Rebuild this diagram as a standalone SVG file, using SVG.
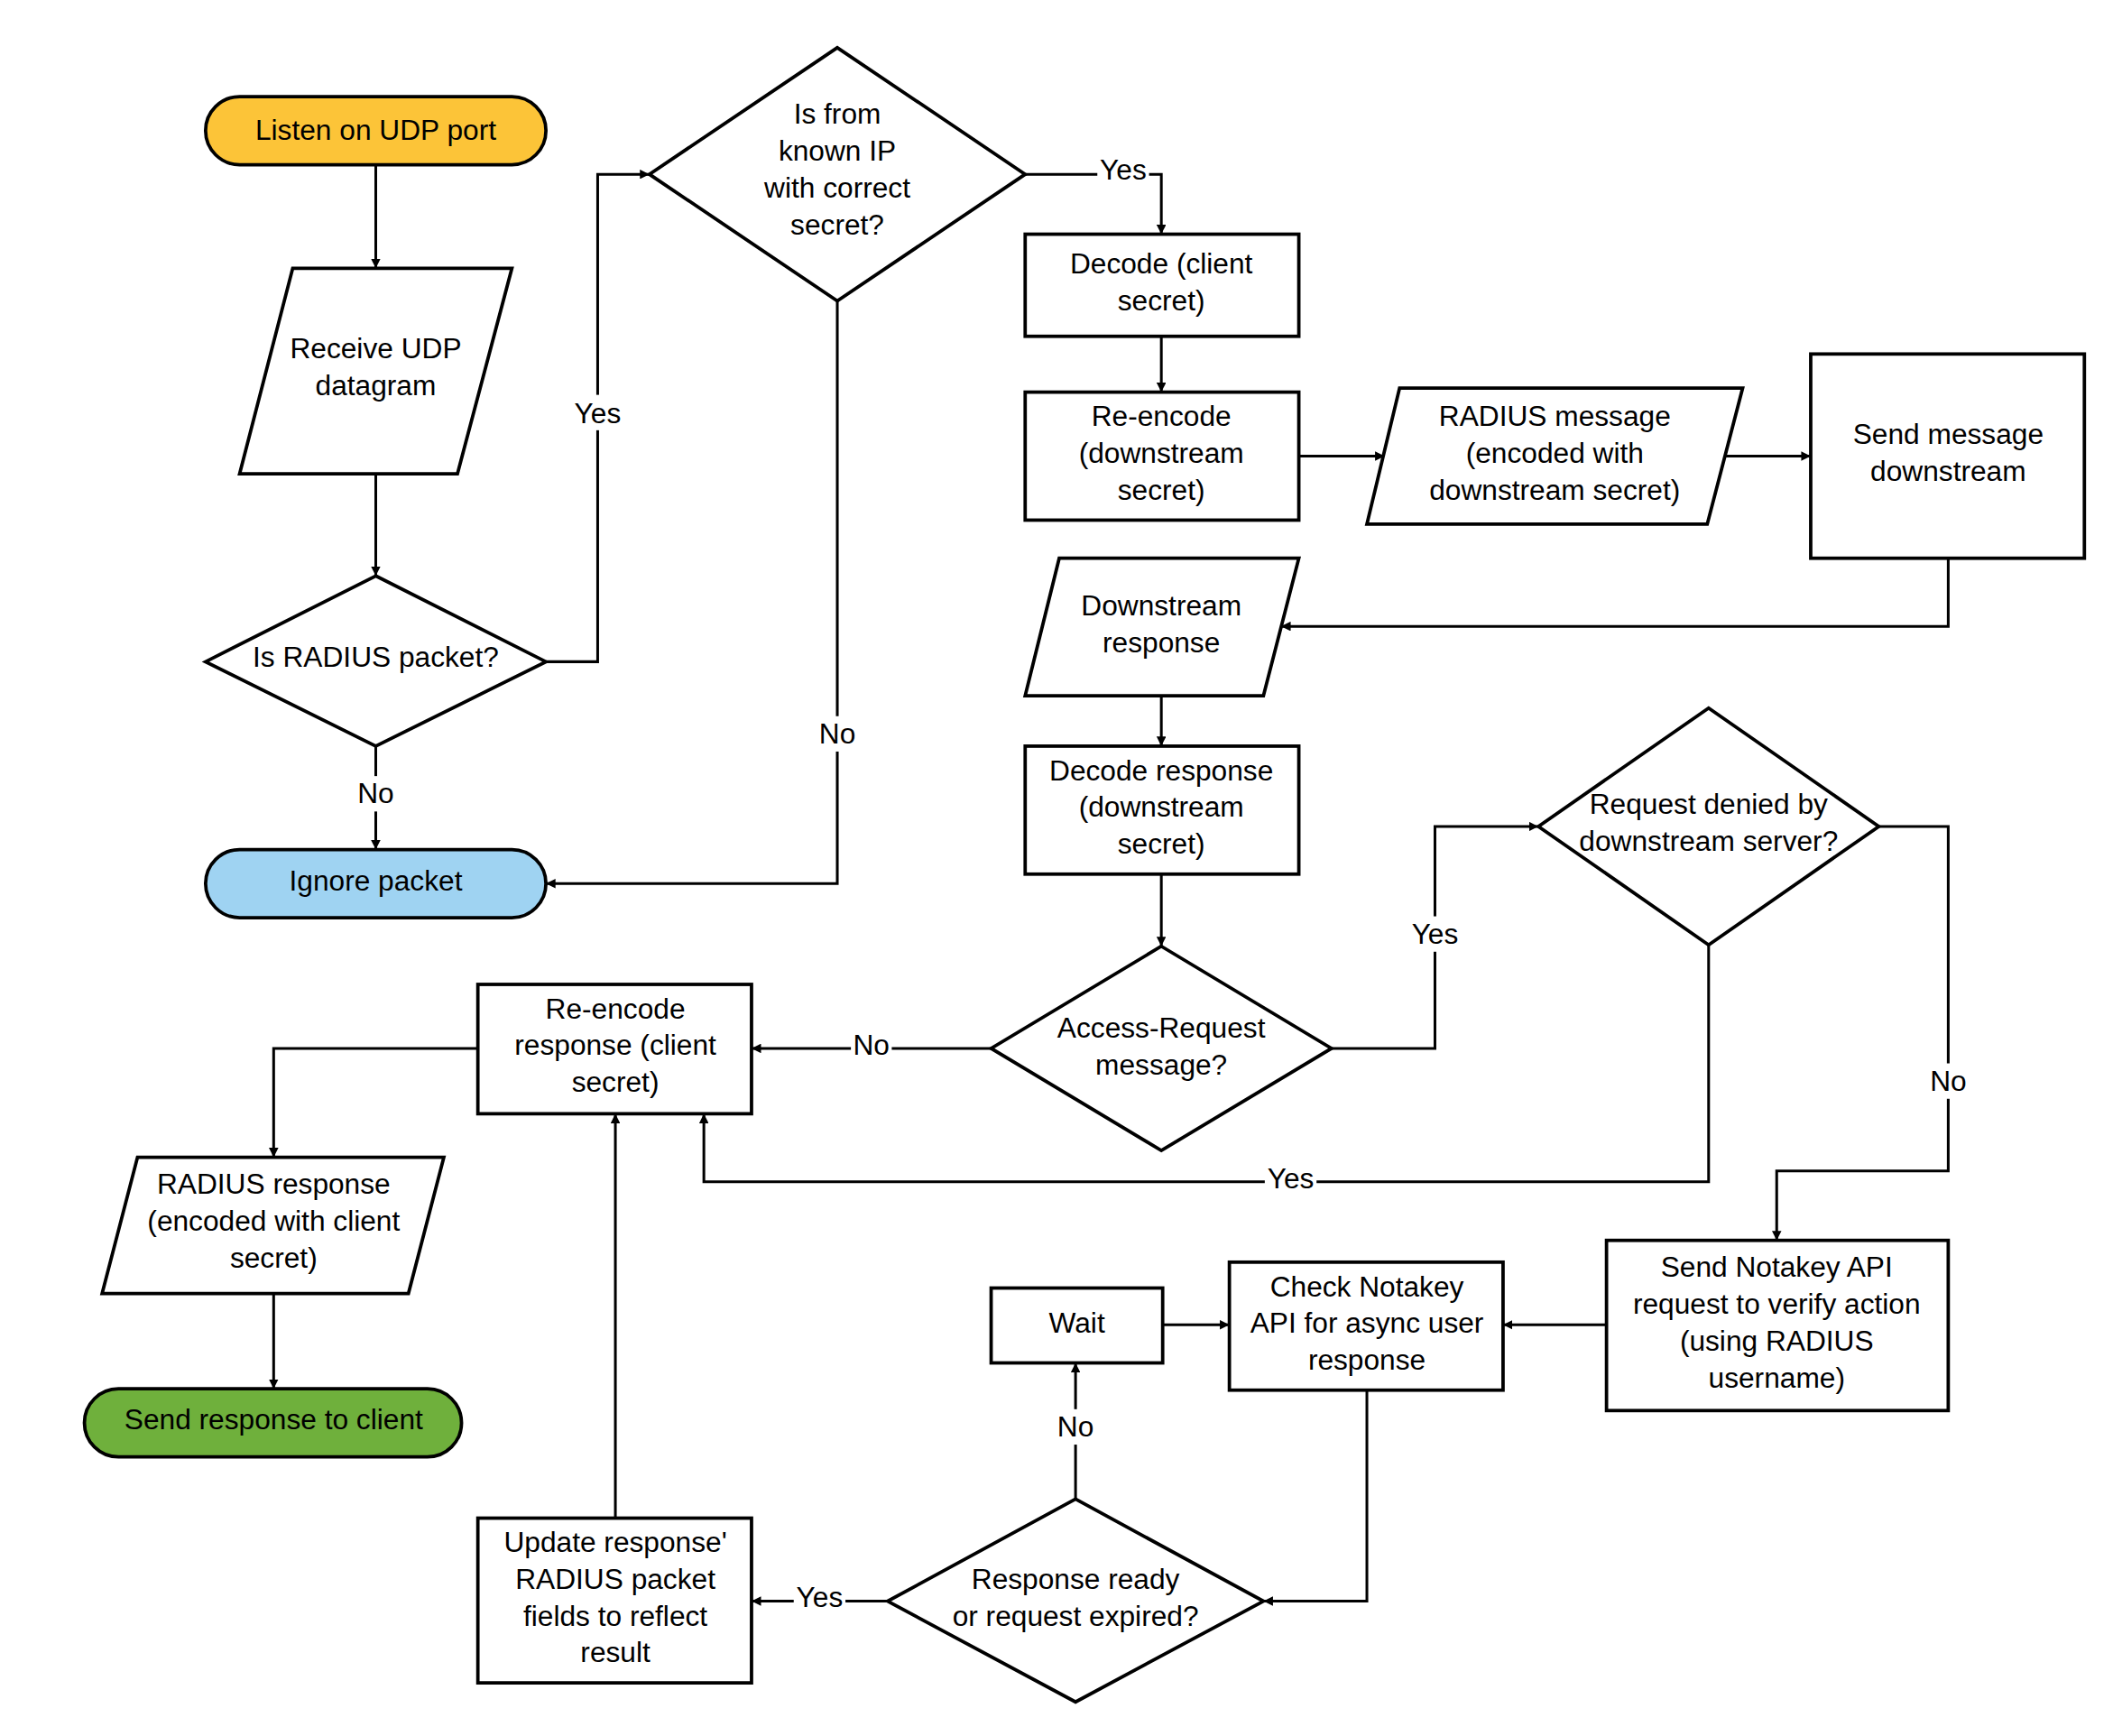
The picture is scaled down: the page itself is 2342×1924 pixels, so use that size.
<svg xmlns="http://www.w3.org/2000/svg" width="2342" height="1924" viewBox="0 0 2342 1924">
<style>
.s{fill:#fff;stroke:#000;stroke-width:2.5}
.c{fill:none;stroke:#000;stroke-width:2;marker-end:url(#a)}
text{font-family:"Liberation Sans",Arial,sans-serif;font-size:21px;text-anchor:middle;fill:#000}
.lb{fill:#fff}
</style>
<defs><marker id="a" viewBox="0 0 10 10" refX="10" refY="5" markerWidth="7" markerHeight="7" markerUnits="userSpaceOnUse" orient="auto"><path d="M0,0L10,5L0,10z" fill="#000"/></marker></defs>
<rect width="2342" height="1924" fill="#fff"/>
<g transform="scale(1.509)">
<g id="connectors">
<path class="c" d="M276,121V197"/>
<path class="c" d="M276,348V423"/>
<path class="c" d="M401,486H439V128H477"/>
<path class="c" d="M276,548V624"/>
<path class="c" d="M615,221V649H401"/>
<path class="c" d="M753,128H853V172"/>
<path class="c" d="M853,247V288"/>
<path class="c" d="M954,335H1017"/>
<path class="c" d="M1267,335H1330"/>
<path class="c" d="M1431,410V460H941"/>
<path class="c" d="M853,511V548"/>
<path class="c" d="M853,642V695"/>
<path class="c" d="M728,770H552"/>
<path class="c" d="M978,770H1054V607H1130"/>
<path class="c" d="M1255,694V868H517V818"/>
<path class="c" d="M1380,607H1431V860H1305V911"/>
<path class="c" d="M1180,973H1104"/>
<path class="c" d="M1004,1021V1176H928"/>
<path class="c" d="M790,1101V1001"/>
<path class="c" d="M854,973H903"/>
<path class="c" d="M652,1176H552"/>
<path class="c" d="M452,1115V818"/>
<path class="c" d="M351,770H201V850"/>
<path class="c" d="M201,950V1020"/>
<g>
<rect class="lb" x="420" y="290" width="38" height="26"/><text x="439" y="311">Yes</text>
<rect class="lb" x="260" y="570" width="32" height="26"/><text x="276" y="590">No</text>
<rect class="lb" x="598" y="526" width="34" height="26"/><text x="615" y="546">No</text>
<rect class="lb" x="806" y="114" width="38" height="24"/><text x="825" y="132">Yes</text>
<rect class="lb" x="625" y="756" width="30" height="24"/><text x="640" y="775">No</text>
<rect class="lb" x="1035" y="673" width="38" height="26"/><text x="1054" y="693">Yes</text>
<rect class="lb" x="929" y="855" width="38" height="24"/><text x="948" y="873">Yes</text>
<rect class="lb" x="1414" y="781" width="34" height="26"/><text x="1431" y="801">No</text>
<rect class="lb" x="774" y="1035" width="32" height="26"/><text x="790" y="1055">No</text>
<rect class="lb" x="583" y="1161" width="38" height="24"/><text x="602" y="1180">Yes</text>
</g>
</g>
<g id="listen"><rect x="151" y="71" width="250" height="50" rx="25" fill="#fcc438" stroke="#000" stroke-width="2.5"/><text x="276" y="103">Listen on UDP port</text></g>
<g id="receive"><path class="s" d="M215,197H376L336,348H176Z"/><text x="276" y="263">Receive UDP</text><text x="276" y="290">datagram</text></g>
<g id="isradius"><path class="s" d="M276,423L401,486L276,548L151,486Z"/><text x="276" y="490">Is RADIUS packet?</text></g>
<g id="ignore"><rect x="151" y="624" width="250" height="50" rx="25" fill="#9fd3f2" stroke="#000" stroke-width="2.5"/><text x="276" y="654">Ignore packet</text></g>
<g id="knownip"><path class="s" d="M615,35L753,128L615,221L477,128Z"/><text x="615" y="91">Is from</text><text x="615" y="118">known IP</text><text x="615" y="145">with correct</text><text x="615" y="172">secret?</text></g>
<g id="decode"><rect class="s" x="753" y="172" width="201" height="75"/><text x="853" y="201">Decode (client</text><text x="853" y="228">secret)</text></g>
<g id="reencode"><rect class="s" x="753" y="288" width="201" height="94"/><text x="853" y="313">Re-encode</text><text x="853" y="340">(downstream</text><text x="853" y="367">secret)</text></g>
<g id="radiusmsg"><path class="s" d="M1028,285H1280L1254,385H1004Z"/><text x="1142" y="313">RADIUS message</text><text x="1142" y="340">(encoded with</text><text x="1142" y="367">downstream secret)</text></g>
<g id="send"><rect class="s" x="1330" y="260" width="201" height="150"/><text x="1431" y="326">Send message</text><text x="1431" y="353">downstream</text></g>
<g id="dresp"><path class="s" d="M778,410H954L928,511H753Z"/><text x="853" y="452">Downstream</text><text x="853" y="479">response</text></g>
<g id="decresp"><rect class="s" x="753" y="548" width="201" height="94"/><text x="853" y="573">Decode response</text><text x="853" y="600">(downstream</text><text x="853" y="627">secret)</text></g>
<g id="access"><path class="s" d="M853,695L978,770L853,845L728,770Z"/><text x="853" y="762">Access-Request</text><text x="853" y="789">message?</text></g>
<g id="denied"><path class="s" d="M1255,520L1380,607L1255,694L1130,607Z"/><text x="1255" y="598">Request denied by</text><text x="1255" y="625">downstream server?</text></g>
<g id="reenc2"><rect class="s" x="351" y="723" width="201" height="95"/><text x="452" y="748">Re-encode</text><text x="452" y="775">response (client</text><text x="452" y="802">secret)</text></g>
<g id="radresp"><path class="s" d="M101,850H326L300,950H75Z"/><text x="201" y="877">RADIUS response</text><text x="201" y="904">(encoded with client</text><text x="201" y="931">secret)</text></g>
<g id="sendresp"><rect x="62" y="1020" width="277" height="50" rx="25" fill="#6fb03c" stroke="#000" stroke-width="2.5"/><text x="201" y="1050">Send response to client</text></g>
<g id="notakey"><rect class="s" x="1180" y="911" width="251" height="125"/><text x="1305" y="938">Send Notakey API</text><text x="1305" y="965">request to verify action</text><text x="1305" y="992">(using RADIUS</text><text x="1305" y="1019">username)</text></g>
<g id="check"><rect class="s" x="903" y="927" width="201" height="94"/><text x="1004" y="952">Check Notakey</text><text x="1004" y="979">API for async user</text><text x="1004" y="1006">response</text></g>
<g id="wait"><rect class="s" x="728" y="946" width="126" height="55"/><text x="791" y="979">Wait</text></g>
<g id="ready"><path class="s" d="M790,1101L928,1176L790,1250L652,1176Z"/><text x="790" y="1167">Response ready</text><text x="790" y="1194">or request expired?</text></g>
<g id="update"><rect class="s" x="351" y="1115" width="201" height="121"/><text x="452" y="1140">Update response'</text><text x="452" y="1167">RADIUS packet</text><text x="452" y="1194">fields to reflect</text><text x="452" y="1221">result</text></g>
</g>
</svg>
